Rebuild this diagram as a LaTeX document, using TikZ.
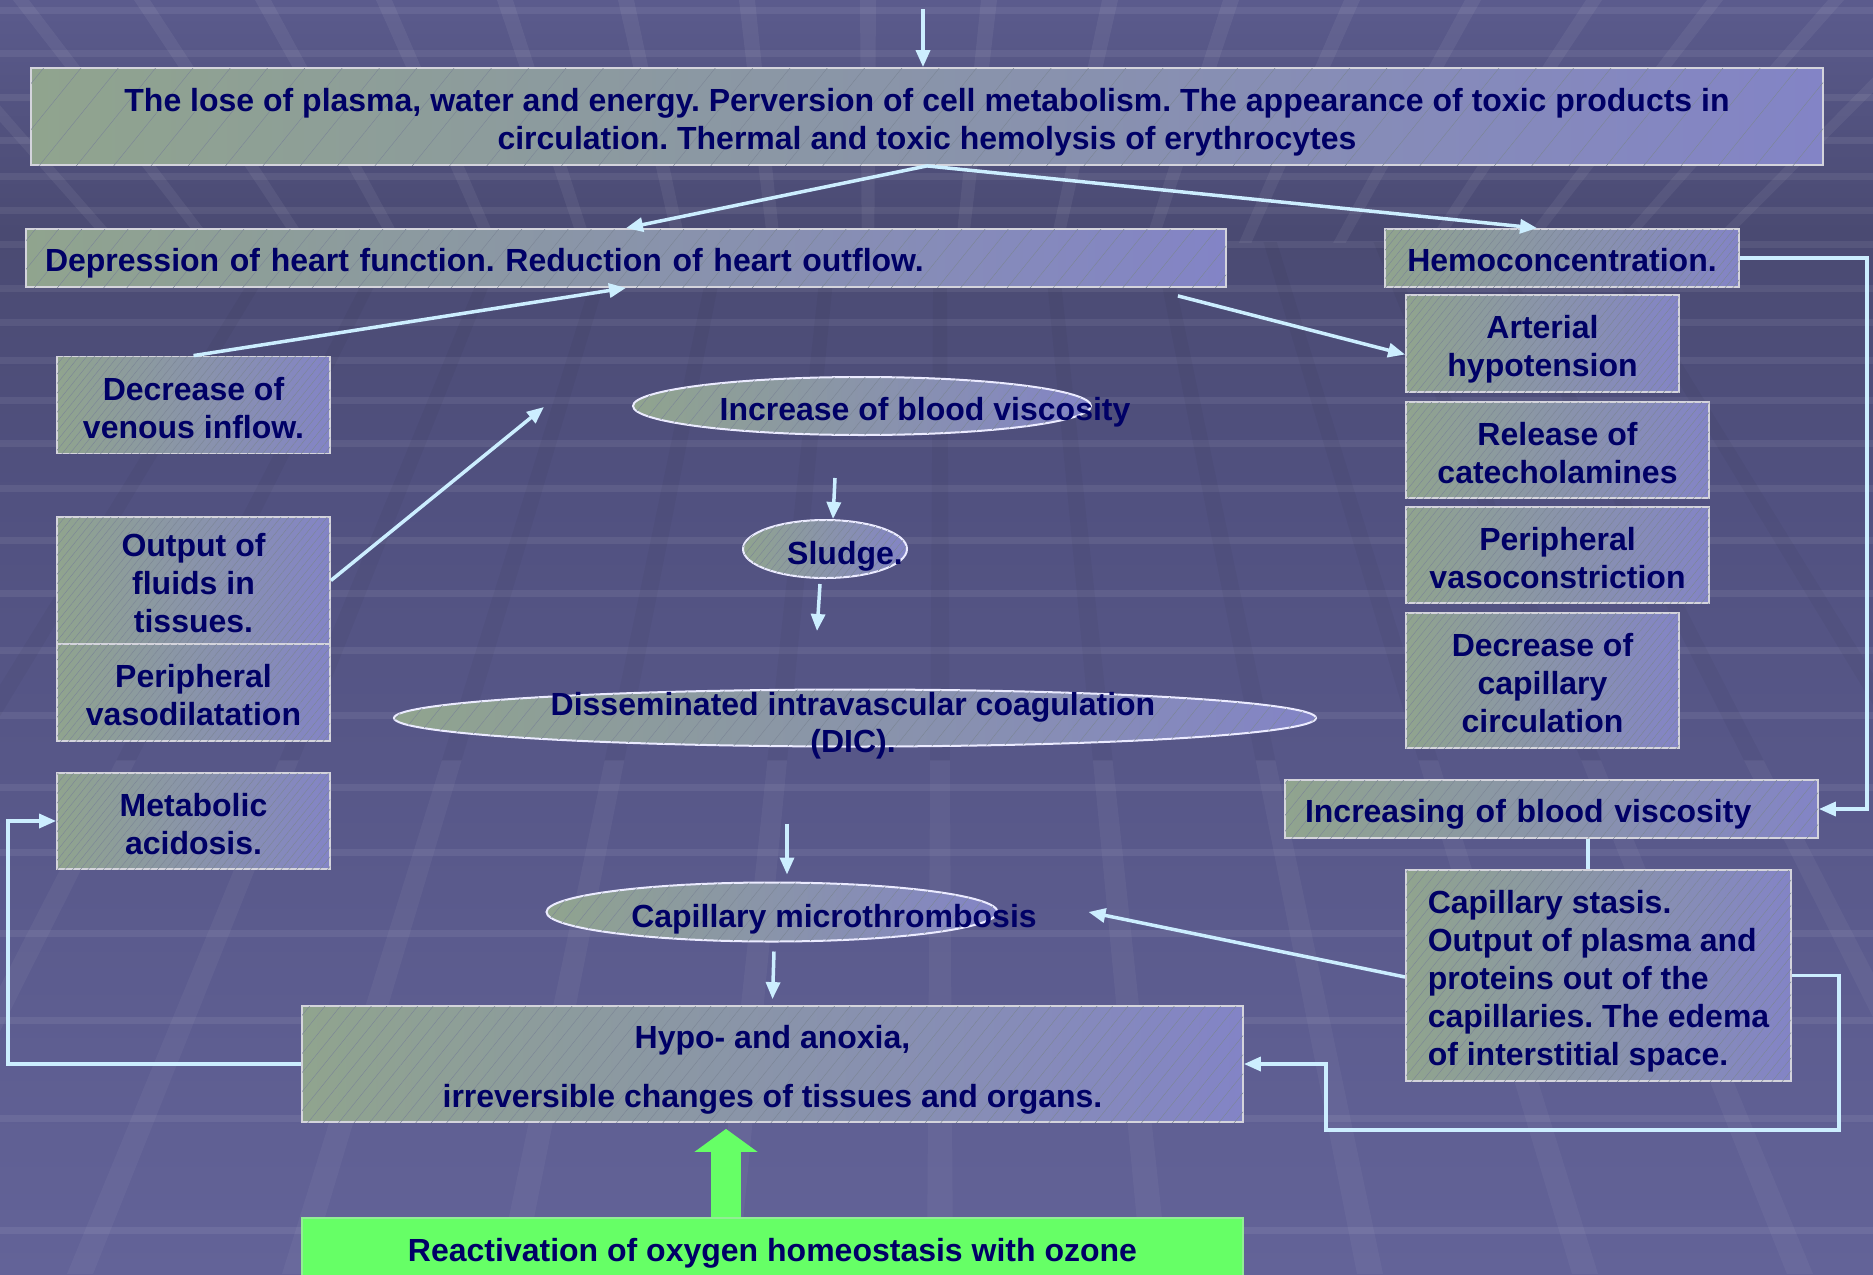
\documentclass[tikz,border=0pt]{standalone}
\usepackage{fontspec}
\setmainfont{Liberation Sans}
\usetikzlibrary{arrows.meta,patterns.meta,shapes.geometric}

\definecolor{navy}{HTML}{000066}
\definecolor{boxl}{HTML}{90A48E}
\definecolor{boxr}{HTML}{8384C6}
\definecolor{edge}{HTML}{D4D4DC}
\definecolor{hatch}{HTML}{7C8696}
\definecolor{arrowc}{HTML}{CCEEFF}
\definecolor{ozone}{HTML}{66FF66}
\definecolor{bga}{HTML}{5B5B8D}
\definecolor{bgb}{HTML}{4A4A72}
\definecolor{bgc}{HTML}{515180}
\definecolor{bgd}{HTML}{636398}

\newcommand{\tallline}{\rule{0pt}{35pt}}

\tikzset{
  every node/.style={font=\fontsize{32}{38}\selectfont\bfseries\frenchspacing,text=navy,
    execute at begin node={\rule{0pt}{33pt}},execute at end node={\rule[-7pt]{0pt}{7pt}}},
  box/.style={rectangle,draw=edge,line width=1.8pt,left color=boxl,right color=boxr,
    inner sep=0pt,align=center,
    postaction={pattern={Lines[angle=51,distance=#1,line width=0.45pt]},pattern color=hatch}},
  box/.default=6pt,
  ell/.style={ellipse,draw=white!92!blue,line width=2pt,left color=boxl,right color=boxr,inner sep=0pt,
    postaction={pattern={Lines[angle=51,distance=#1,line width=0.45pt]},pattern color=hatch}},
  ell/.default=7pt,
  arr/.style={draw=arrowc,line width=3.5pt,-{Triangle[length=17pt,width=14pt]}},
  conn/.style={draw=arrowc,line width=3.5pt},
  fat/.style={draw=ozone,line width=30pt,-{Triangle[length=23pt,width=62pt]}}
}

\begin{document}
\begin{tikzpicture}[x=1pt,y=-1pt]
\useasboundingbox (0,0) rectangle (1873,1274);
\clip (0,0) rectangle (1873,1274);

\shade[top color=bga,bottom color=bgb] (0,0) rectangle (1873,231);
\shade[top color=bgb,bottom color=bgc] (0,230) rectangle (1873,501);
\shade[top color=bgc,bottom color=bgd] (0,500) rectangle (1873,1274);
\foreach \y in {10,53,97,140,176,210,244,288,322,360,400,443,488,540,593,650,715,787,852,933,1020,1118,1230}
  \fill[white,opacity=0.07] (0,\y-3) rectangle (1873,\y+4);
\begin{scope}
\clip (0,0) rectangle (1873,242);
\foreach \k in {-8,-7,...,9}
  \fill[white,opacity=0.06] (868,1100) -- (868+121*\k-8,0) -- (868+121*\k+8,0) -- cycle;
\end{scope}
\begin{scope}
\clip (0,242) rectangle (1873,760);
\foreach \k in {-6,-5,...,6}
  \fill[black,opacity=0.035] (940,-840) -- (940+215*\k-13,1274) -- (940+215*\k+13,1274) -- cycle;
\end{scope}
\begin{scope}
\clip (0,760) rectangle (1873,1274);
\foreach \k in {-6,-5,...,6}
  \fill[white,opacity=0.045] (940,-840) -- (940+215*\k-13,1274) -- (940+215*\k+13,1274) -- cycle;
\end{scope}

\node[box=29pt,minimum width=1792pt,minimum height=97pt] (toxic) at (927,116.5)
  {\tallline The lose of plasma, water and energy. Perversion of cell metabolism. The appearance of toxic products in\\circulation. Thermal and toxic hemolysis of erythrocytes};
\node[box=18pt,minimum height=58pt,text width=1162pt,inner xsep=19pt,align=left] (depr) at (626,258)
  {Depression of heart function. Reduction of heart outflow.};
\node[box,minimum width=354pt,minimum height=58pt] (hemo) at (1562,258) {Hemoconcentration.};

\node[box,minimum width=273pt,minimum height=97pt] (venous) at (193.5,405) {\tallline Decrease of\\venous inflow.};
\node[box,minimum width=273pt,minimum height=127pt] (fluids) at (193.5,580.5) {\tallline Output of\\fluids in\\tissues.};
\node[box,minimum width=273pt,minimum height=97pt] (vasodil) at (193.5,692.5) {\tallline Peripheral\\vasodilatation};
\node[box,minimum width=273pt,minimum height=96pt] (metab) at (193.5,821) {\tallline Metabolic\\acidosis.};

\node[box,minimum width=273pt,minimum height=97pt] (arter) at (1542.5,343.5) {\tallline Arterial\\hypotension};
\node[box,minimum width=303pt,minimum height=96pt] (release) at (1557.5,450) {\tallline Release of\\catecholamines};
\node[box,minimum width=303pt,minimum height=96pt] (vasoc) at (1557.5,555) {\tallline Peripheral\\vasoconstriction};
\node[box,minimum width=273pt,minimum height=135pt] (capcirc) at (1542.5,680.5) {\tallline Decrease of\\capillary\\circulation};
\node[box=10pt,minimum height=58pt,text width=493pt,inner xsep=20pt,align=left] (incr) at (1551.5,809)
  {Increasing of blood viscosity};
\node[box=8pt,minimum width=385pt,minimum height=211pt,align=left] (stasis) at (1598.5,975.5)
  {\tallline Capillary stasis.\\Output of plasma and\\proteins out of the\\capillaries. The edema\\of interstitial space.};

\node[ell=12pt,minimum width=458pt,minimum height=58pt] (viscE) at (862,406) {};
\node (viscT) at (925,407) {Increase of blood viscosity};
\node[ell=6pt,minimum width=164pt,minimum height=58pt] (sludgeE) at (825,549) {};
\node (sludgeT) at (845,551) {Sludge.};
\node[ell=14pt,minimum width=922pt,minimum height=57pt] (dicE) at (855,718) {};
\node[align=center] (dicT) at (853,720) {\tallline Disseminated intravascular coagulation\\[-1pt](DIC).};
\node[ell=12pt,minimum width=451pt,minimum height=59pt] (microE) at (772,912) {};
\node (microT) at (834,914) {Capillary microthrombosis};

\node[box=12pt,minimum width=941pt,minimum height=116pt] (hypo) at (772.5,1064)
  {\tallline Hypo- and anoxia,\\[21pt]irreversible changes of tissues and organs.};
\node[draw=edge!40!ozone,line width=1.8pt,fill=ozone,minimum width=941pt,minimum height=60pt] (react) at (772.5,1248)
  {Reactivation of oxygen homeostasis with ozone};

\coordinate (entry) at (923,9);
\coordinate (fluidsend) at (544,407);
\coordinate (sludgeend) at (817,631);

\draw[arr] (entry) -- ([xshift=-4pt]toxic.north);
\draw[arr] (toxic.south) -- (depr.north);
\draw[arr] (toxic.south) -- ([xshift=-25pt]hemo.north);
\draw[arr] (venous.north) -- (depr.south);
\draw[arr] ([xshift=-49pt,yshift=-8pt]depr.south east) -- ([yshift=-11pt]arter.west);
\draw[arr] (fluids.east) -- (fluidsend);
\draw[arr] ([xshift=10pt,yshift=41pt]sludgeE.north) -- ([xshift=8pt]sludgeE.north);
\draw[arr] ([xshift=-5pt,yshift=-5pt]sludgeE.south) -- (sludgeend);
\draw[arr] ([xshift=15pt,yshift=58pt]microE.north) -- ([xshift=15pt,yshift=7pt]microE.north);
\draw[arr] ([xshift=2pt,yshift=-9pt]microE.south) -- ([yshift=6pt]hypo.north);
\draw[arr] ([yshift=-1.5pt]stasis.west) -- ([xshift=90pt]microE.east);
\draw[arr] (hemo.east) -- ++(127,0) |- (incr.east);
\draw[conn] ([xshift=36.5pt]incr.south) -- ([xshift=36.5pt]incr.south |- stasis.north);
\draw[arr] (stasis.east) -- ++(47,0) -- ++(0,154.5) -- ++(-513,0) |- (hypo.east);
\draw[arr] (hypo.west) -- ++(-293,0) |- (metab.west);
\draw[fat] ([xshift=-46.5pt]react.north) -- ([xshift=-46.5pt,yshift=-6pt]hypo.south);
\end{tikzpicture}
\end{document}
